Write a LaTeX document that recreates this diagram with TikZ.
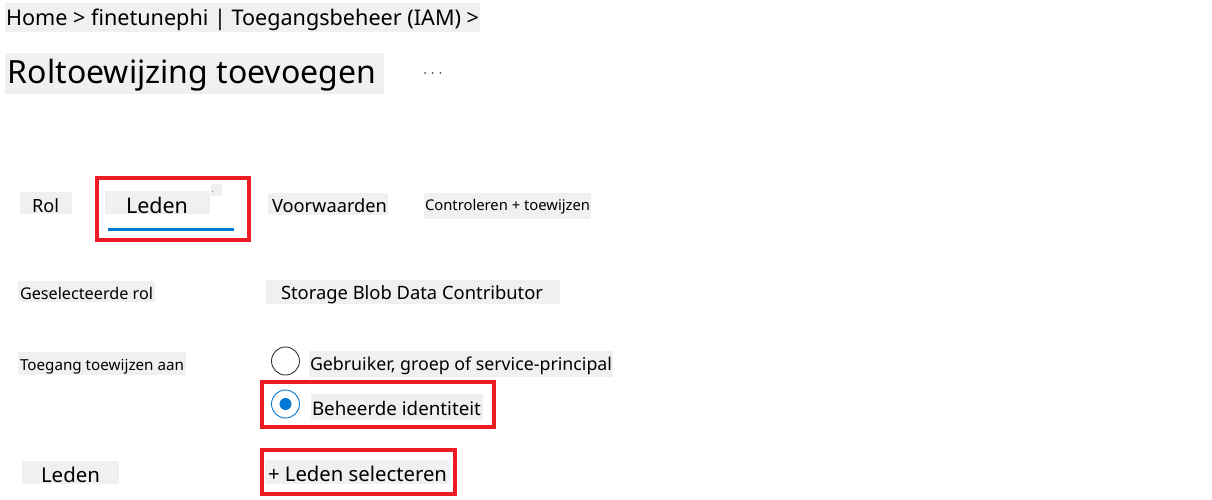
\documentclass[tikz,border=0pt]{standalone}
\usepackage{fontspec}
\setmainfont{Noto Sans}
\usepackage{graphicx}
\definecolor{bgg}{HTML}{F0F0F0}
\definecolor{redb}{HTML}{ED1C24}
\definecolor{azb}{HTML}{0078D4}
\definecolor{txtc}{HTML}{000000}
\newcommand{\fitw}[2]{\resizebox{#1pt}{!}{#2}}
\tikzset{
  bgbox/.style={fill=bgg, draw=none},
  lbl/.style={anchor=base west, inner sep=0pt, outer sep=0pt, text=txtc},
  redframe/.style={draw=redb, line width=4pt},
  radioring/.style={draw=#1, line width=0.9pt, fill=white},
}
\begin{document}
\begin{tikzpicture}[x=1pt,y=-1pt]
\useasboundingbox (0,0) rectangle (1212,499);
\fill[white] (0,0) rectangle (1212,499);
% breadcrumb
\fill[bgbox] (5,3) rectangle (480,32);
\node[lbl] (crumb) at (6,25) {\fitw{473}{Home > finetunephi | Toegangsbeheer (IAM) >}};
% title
\fill[bgbox] (5,53) rectangle (384,94);
\node[lbl] (title) at (8,83) {\fitw{368}{Roltoewijzing toevoegen}};
\fill[black!70] (425,73) circle (1pt) (432.7,73) circle (1pt) (440.3,73) circle (1pt);
\node[inner sep=0pt] (dots) at (432.7,73) {};
% tabs
\fill[bgbox] (20,192) rectangle (72,214);
\node[lbl] (tabrol) at (32,212) {\fitw{27}{Rol}};
\fill[bgbox] (105,191) rectangle (210,214);
\fill[bgbox] (211,184) rectangle (222,196);
\fill[black!50] (212,190.5) rectangle (213,191.5);
\node[lbl] (tableden) at (126,213.5) {\fitw{62}{Leden}};
\draw[azb, line width=3pt] (108,229.5) -- (234,229.5);
\draw[redframe] (97,178) rectangle (249,240);
\fill[bgbox] (268,193) rectangle (388,215);
\node[lbl] (tabvoor) at (272,212) {\fitw{115}{Voorwaarden}};
\fill[bgbox] (424,193) rectangle (591,219);
\node[lbl] (tabcontr) at (425,210) {\fitw{165}{Controleren + toewijzen}};
% selected role
\fill[bgbox] (18,281) rectangle (155,302);
\node[lbl] (lrole) at (20,299) {\fitw{133}{Geselecteerde rol}};
\fill[bgbox] (266,280) rectangle (560,304);
\node[lbl] (vrole) at (281,299) {\fitw{262}{Storage Blob Data Contributor}};
% assign access
\fill[bgbox] (18,352) rectangle (186,375);
\node[lbl] (lassign) at (20,370) {\fitw{164}{Toegang toewijzen aan}};
\draw[radioring=black!80] (285.5,361) circle (14);
\node[inner sep=0pt] (radio1) at (285.5,361) {};
\fill[bgbox] (309,351) rectangle (613,377);
\node[lbl] (opt1) at (310,370) {\fitw{302}{Gebruiker, groep of service-principal}};
\draw[radioring=azb] (285.5,404) circle (14);
\fill[azb] (285.5,404) circle (6);
\node[inner sep=0pt] (radio2) at (285.5,404) {};
\fill[bgbox] (311,394) rectangle (483,420);
\node[lbl] (opt2) at (312,415) {\fitw{169}{Beheerde identiteit}};
\draw[redframe] (262,382) rectangle (494,427);
% members
\fill[bgbox] (22,461) rectangle (119,484);
\node[lbl] (lmembers) at (41,482) {\fitw{59}{Leden}};
\fill[bgbox] (265,460) rectangle (449,484);
\node[lbl] (selmem) at (268,481) {\fitw{179}{+ Leden selecteren}};
\draw[redframe] (262,450) rectangle (455,494);
\end{tikzpicture}
\end{document}
